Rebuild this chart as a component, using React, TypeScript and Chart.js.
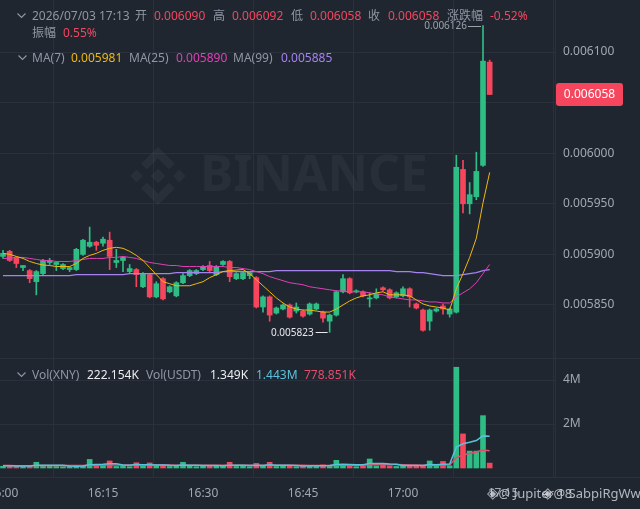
import React, { useEffect, useRef } from 'react';
import { Chart, registerables } from 'chart.js';

Chart.register(...registerables);

const BG = '#1f2630';
const GRID = '#2a313c';
const GREY = '#8f97a3';
const AXIS_TXT = '#a2a8b1';
const UP = '#2ebd85';
const DOWN = '#f6465d';
const MA7_C = '#f0b90b';
const MA25_C = '#e040b4';
const MA99_C = '#a582f0';
const VMA5_C = '#58c2dd';
const VMA10_C = '#e44d6a';
const FONT = '"Noto Sans", "Noto Sans CJK SC", sans-serif';

const HEADER_TIME = '2026/07/03 17:13';
const CHANGE_PCT = '-0.52%';
const AMPLITUDE = '0.55%';
const VOL_LEGEND = ['222.154K', '1.349K', '1.443M', '778.851K'];

const OPEN = [
  0.005898, 0.005903, 0.005897, 0.005887, 0.005884, 0.005873, 0.005881, 0.005892, 0.00589, 0.005886,
  0.005885, 0.005885, 0.0059, 0.005908, 0.005912, 0.005911, 0.005914, 0.005892, 0.005894, 0.005883,
  0.005885, 0.005868, 0.00588, 0.005858, 0.005876, 0.005863, 0.005859, 0.005872, 0.005879, 0.005881,
  0.005885, 0.005889, 0.00588, 0.00589, 0.005893, 0.005876, 0.005876, 0.005879, 0.005877, 0.005848,
  0.005858, 0.005842, 0.005846, 0.00585, 0.005844, 0.005844, 0.005841, 0.005846, 0.005843, 0.005834,
  0.00584, 0.005863, 0.005876, 0.005863, 0.005863, 0.005856, 0.005857, 0.005867, 0.005865, 0.005858,
  0.005859, 0.005866, 0.005851, 0.005845, 0.005834, 0.005844, 0.005849, 0.005841, 0.005843, 0.005984,
  0.00595, 0.005957, 0.005988, 0.00609,
];
const HIGH = [
  0.005904, 0.005904, 0.005898, 0.005889, 0.005885, 0.005884, 0.005895, 0.005896, 0.005893, 0.005891,
  0.005888, 0.005906, 0.005915, 0.005927, 0.005913, 0.005917, 0.005922, 0.005905, 0.005898, 0.00589,
  0.005886, 0.005882, 0.005881, 0.005873, 0.005877, 0.005869, 0.005873, 0.005881, 0.005885, 0.005885,
  0.005889, 0.005893, 0.005889, 0.005894, 0.005894, 0.005882, 0.005883, 0.005883, 0.005878, 0.005859,
  0.005859, 0.005848, 0.005851, 0.005851, 0.005852, 0.005845, 0.005852, 0.005852, 0.005844, 0.005841,
  0.005864, 0.00588, 0.005877, 0.005865, 0.005864, 0.005862, 0.005866, 0.005868, 0.005866, 0.005863,
  0.005868, 0.005867, 0.005852, 0.005846, 0.005846, 0.005847, 0.005851, 0.005847, 0.005998, 0.005993,
  0.005971, 0.006001, 0.006126, 0.006092,
];
const LOW = [
  0.005896, 0.005893, 0.005887, 0.005884, 0.005872, 0.00586, 0.00588, 0.00589, 0.005884, 0.005885,
  0.005883, 0.005884, 0.005899, 0.005907, 0.005904, 0.005908, 0.005885, 0.005887, 0.005883, 0.005882,
  0.005868, 0.005867, 0.005857, 0.005857, 0.005855, 0.005862, 0.005858, 0.005871, 0.005878, 0.00588,
  0.005884, 0.005883, 0.005879, 0.005889, 0.005873, 0.005875, 0.005875, 0.005876, 0.005847, 0.005843,
  0.005834, 0.005841, 0.005845, 0.005837, 0.005842, 0.005838, 0.00584, 0.005845, 0.005833, 0.005823,
  0.005839, 0.005862, 0.005861, 0.005862, 0.005858, 0.005848, 0.005856, 0.005864, 0.005856, 0.005857,
  0.005858, 0.005848, 0.005846, 0.005824, 0.005825, 0.005843, 0.005841, 0.005838, 0.005842, 0.005941,
  0.00594, 0.005954, 0.005987, 0.006058,
];
const CLOSE = [
  0.005901, 0.005894, 0.005891, 0.005889, 0.005876, 0.005883, 0.005894, 0.005894, 0.005892, 0.00589,
  0.005887, 0.005905, 0.005914, 0.005912, 0.005909, 0.005915, 0.005898, 0.005894, 0.005897, 0.005886,
  0.00588, 0.005881, 0.005858, 0.005871, 0.005856, 0.005868, 0.005872, 0.005879, 0.005884, 0.005884,
  0.005888, 0.005884, 0.005888, 0.005893, 0.005878, 0.005881, 0.005882, 0.005882, 0.005848, 0.005858,
  0.00584, 0.005847, 0.00585, 0.005838, 0.005848, 0.005839, 0.005851, 0.005851, 0.005837, 0.00584,
  0.005863, 0.005876, 0.005862, 0.005864, 0.005859, 0.005857, 0.005861, 0.005865, 0.005857, 0.005862,
  0.005866, 0.005858, 0.005847, 0.005825, 0.005845, 0.005846, 0.005846, 0.005846, 0.005986, 0.00595,
  0.005959, 0.005982, 0.006091, 0.006058,
];
const MA7 = [
  0.005901, 0.0059, 0.005898, 0.005896, 0.005893, 0.005891, 0.0058895, 0.005889, 0.005888, 0.005888,
  0.005888, 0.005891, 0.005896, 0.005899, 0.005901, 0.005904, 0.005906, 0.005907, 0.005906, 0.005903,
  0.005899, 0.005894, 0.005887, 0.00588, 0.005873, 0.005871, 0.005869, 0.005869, 0.005869, 0.005871,
  0.005873, 0.005877, 0.00588, 0.005883, 0.005884, 0.0058845, 0.005885, 0.005881, 0.005875, 0.005869,
  0.005863, 0.005857, 0.005852, 0.005848, 0.005846, 0.005845, 0.005845, 0.005844, 0.005843, 0.005843,
  0.005846, 0.00585, 0.005854, 0.005857, 0.005859, 0.00586, 0.005862, 0.005863, 0.00586, 0.00586,
  0.00586, 0.005859, 0.005855, 0.005851, 0.005849, 0.005848, 0.005847, 0.005845, 0.005866, 0.005881,
  0.005897, 0.005916, 0.005951, 0.005981,
];
const MA25 = [
  0.005896, 0.005896, 0.005897, 0.005897, 0.005896, 0.005895, 0.005894, 0.005894, 0.005893, 0.005893,
  0.005893, 0.005894, 0.005895, 0.005896, 0.005896, 0.005896, 0.005897, 0.005897, 0.005898, 0.005897,
  0.005896, 0.005894, 0.005892, 0.005891, 0.00589, 0.005889, 0.005889, 0.005888, 0.005888, 0.005888,
  0.005888, 0.005888, 0.005888, 0.005888, 0.005887, 0.005887, 0.005886, 0.005885, 0.005883, 0.005881,
  0.005878, 0.005876, 0.005874, 0.005872, 0.005871, 0.00587, 0.005868, 0.005867, 0.005866, 0.005865,
  0.005864, 0.005864, 0.005863, 0.005863, 0.005863, 0.005862, 0.005861, 0.00586, 0.005858, 0.005857,
  0.005856, 0.005855, 0.005855, 0.005854, 0.005853, 0.005853, 0.005852, 0.005852, 0.005858, 0.005862,
  0.005866, 0.005872, 0.005881, 0.00589,
];
const MA99 = [
  0.005879, 0.005879, 0.005879, 0.005879, 0.005879, 0.005879, 0.005879, 0.005879, 0.005879, 0.005879,
  0.005879, 0.00588, 0.00588, 0.00588, 0.00588, 0.00588, 0.00588, 0.00588, 0.00588, 0.005881,
  0.005881, 0.005881, 0.005881, 0.005881, 0.005881, 0.005881, 0.005882, 0.005882, 0.005882, 0.005882,
  0.005882, 0.005882, 0.005882, 0.005883, 0.005883, 0.005883, 0.005883, 0.005883, 0.005883, 0.005883,
  0.005883, 0.005884, 0.005884, 0.005884, 0.005884, 0.005884, 0.005884, 0.005884, 0.005884, 0.005884,
  0.005884, 0.005884, 0.005884, 0.005884, 0.005884, 0.005884, 0.005884, 0.005884, 0.005884, 0.005883,
  0.005883, 0.005883, 0.005882, 0.005882, 0.005881, 0.00588, 0.005879, 0.005879, 0.005879, 0.00588,
  0.005881, 0.005882, 0.005884, 0.005885,
];
const VOLUME = [
  80000, 100000, 90000, 60000, 80000, 260000, 120000, 80000, 70000, 60000,
  70000, 120000, 100000, 390000, 100000, 120000, 320000, 70000, 100000, 60000,
  240000, 80000, 230000, 100000, 140000, 70000, 100000, 260000, 80000, 60000,
  90000, 120000, 100000, 80000, 260000, 70000, 100000, 60000, 210000, 100000,
  260000, 70000, 80000, 120000, 60000, 100000, 120000, 80000, 140000, 100000,
  350000, 150000, 120000, 60000, 80000, 410000, 100000, 180000, 100000, 70000,
  120000, 140000, 80000, 120000, 320000, 80000, 300000, 100000, 4580000, 1550000,
  770000, 770000, 2380000, 222154,
];
const VOL_MA5 = [
  100000, 100000, 95000, 90000, 90000, 130000, 130000, 125000, 125000, 120000,
  90000, 85000, 90000, 150000, 160000, 170000, 190000, 190000, 140000, 130000,
  160000, 150000, 150000, 140000, 140000, 120000, 110000, 140000, 130000, 120000,
  110000, 110000, 110000, 100000, 130000, 130000, 120000, 110000, 120000, 110000,
  150000, 130000, 120000, 130000, 110000, 90000, 100000, 100000, 100000, 110000,
  160000, 170000, 160000, 150000, 150000, 200000, 210000, 200000, 180000, 170000,
  110000, 110000, 110000, 110000, 160000, 150000, 170000, 180000, 950000, 1100000,
  1170000, 1250000, 1460000, 1443000,
];
const VOL_MA10 = [
  110000, 110000, 105000, 100000, 100000, 110000, 110000, 110000, 110000, 115000,
  115000, 110000, 110000, 130000, 130000, 130000, 140000, 140000, 140000, 140000,
  140000, 140000, 140000, 140000, 140000, 140000, 130000, 130000, 130000, 130000,
  130000, 120000, 120000, 120000, 120000, 120000, 120000, 120000, 120000, 120000,
  120000, 120000, 120000, 120000, 120000, 120000, 115000, 110000, 110000, 110000,
  120000, 130000, 130000, 130000, 130000, 150000, 160000, 160000, 160000, 160000,
  150000, 140000, 140000, 130000, 130000, 130000, 140000, 140000, 470000, 590000,
  660000, 730000, 820000, 778851,
];
const PRICE_TICKS = [0.00585, 0.0059, 0.00595, 0.006, 0.00605, 0.0061];
const VOL_TICKS = [2000000, 4000000];
const VOL_TICK_LABELS = ['2M', '4M'];
const TIME_TICKS = [0, 15, 30, 45, 60, 75];
const TIME_LABELS = ['16:00', '16:15', '16:30', '16:45', '17:00', '17:15'];

const IDX = OPEN.map((_, i) => i);
const candleColor = IDX.map((i) => (CLOSE[i] >= OPEN[i] ? UP : DOWN));

function drawLogo(ctx: CanvasRenderingContext2D, cx: number, cy: number, s: number) {
  const d = (x: number, y: number, r: number) => {
    ctx.beginPath();
    ctx.moveTo(x, y - r);
    ctx.lineTo(x + r, y);
    ctx.lineTo(x, y + r);
    ctx.lineTo(x - r, y);
    ctx.closePath();
    ctx.fill();
  };
  d(cx, cy, s * 0.13);
  d(cx - s * 0.37, cy, s * 0.11);
  d(cx + s * 0.37, cy, s * 0.11);
  const h = s * 0.5;
  for (const sg of [-1, 1]) {
    ctx.beginPath();
    ctx.moveTo(cx, cy + sg * h);
    ctx.lineTo(cx + s * 0.29, cy + sg * (h - s * 0.29));
    ctx.lineTo(cx + s * 0.19, cy + sg * (h - s * 0.39));
    ctx.lineTo(cx, cy + sg * (h - s * 0.2));
    ctx.lineTo(cx - s * 0.19, cy + sg * (h - s * 0.39));
    ctx.lineTo(cx - s * 0.29, cy + sg * (h - s * 0.29));
    ctx.closePath();
    ctx.fill();
  }
}

const overlayPlugin = {
  id: 'overlay',
  beforeDatasetsDraw(chart: any) {
    const ctx = chart.ctx as CanvasRenderingContext2D;
    ctx.save();
    ctx.fillStyle = 'rgba(255,255,255,0.045)';
    drawLogo(ctx, 158, 176, 58);
    ctx.font = `bold 46px ${FONT}`;
    const w = ctx.measureText('BINANCE').width;
    const size = (46 * 228) / w;
    ctx.font = `bold ${size}px ${FONT}`;
    ctx.textBaseline = 'middle';
    ctx.textAlign = 'left';
    ctx.fillText('BINANCE', 200, 177);
    ctx.restore();
  },
  afterDraw(chart: any) {
    const ctx = chart.ctx as CanvasRenderingContext2D;
    const xs = chart.scales.x;
    const ys = chart.scales.y;
    ctx.save();
    ctx.strokeStyle = GRID;
    ctx.lineWidth = 1;
    const sep = Math.round(ys.bottom) + 0.5;
    ctx.beginPath();
    ctx.moveTo(0, sep);
    ctx.lineTo(640, sep);
    ctx.stroke();
    const bot = Math.round(xs.top) + 0.5;
    ctx.beginPath();
    ctx.moveTo(0, bot);
    ctx.lineTo(640, bot);
    ctx.stroke();

    let hi = 0;
    let lo = 0;
    IDX.forEach((i) => {
      if (HIGH[i] > HIGH[hi]) hi = i;
      if (LOW[i] < LOW[lo]) lo = i;
    });
    ctx.font = `10px ${FONT}`;
    ctx.textBaseline = 'middle';
    ctx.textAlign = 'right';
    const hx = xs.getPixelForValue(hi);
    const hy = Math.round(ys.getPixelForValue(HIGH[hi])) + 0.5;
    ctx.fillStyle = '#9aa1ab';
    ctx.strokeStyle = '#9aa1ab';
    ctx.fillText(HIGH[hi].toFixed(6), hx - 16, hy);
    ctx.beginPath();
    ctx.moveTo(hx - 15, hy);
    ctx.lineTo(hx - 2, hy);
    ctx.stroke();
    const lx = xs.getPixelForValue(lo);
    const ly = Math.round(ys.getPixelForValue(LOW[lo])) + 0.5;
    ctx.fillStyle = '#e6e8eb';
    ctx.strokeStyle = '#e6e8eb';
    ctx.fillText(LOW[lo].toFixed(6), lx - 16, ly + 1);
    ctx.beginPath();
    ctx.moveTo(lx - 14, ly);
    ctx.lineTo(lx - 2, ly);
    ctx.stroke();

    const last = CLOSE[CLOSE.length - 1];
    const py = ys.getPixelForValue(last);
    const bx = 556;
    const bw = 67;
    const bh = 23;
    ctx.fillStyle = candleColor[candleColor.length - 1];
    ctx.beginPath();
    (ctx as any).roundRect(bx, py - bh / 2, bw, bh, 3);
    ctx.fill();
    ctx.fillStyle = '#ffffff';
    ctx.font = `12px ${FONT}`;
    ctx.textAlign = 'center';
    ctx.fillText(last.toFixed(6), bx + bw / 2, py + 0.5);
    ctx.restore();
  },
};

const Chev = ({ x, y }: { x: number; y: number }) => (
  <svg style={{ position: 'absolute', left: x, top: y - 3 }} width={9} height={6}>
    <polyline points="0.5,0.5 4.5,4.5 8.5,0.5" fill="none" stroke={GREY} strokeWidth={1.1} />
  </svg>
);

const T = ({ x, y, c, s, children }: any) => (
  <span
    style={{
      position: 'absolute',
      left: x,
      top: y - 8,
      fontSize: s || 12,
      lineHeight: '16px',
      color: c || GREY,
      whiteSpace: 'nowrap',
      fontFamily: FONT,
    }}
  >
    {children}
  </span>
);

export default function App() {
  const ref = useRef<HTMLCanvasElement>(null);
  useEffect(() => {
    const chart = new Chart(ref.current as HTMLCanvasElement, {
      type: 'bar',
      data: {
        datasets: [
          {
            type: 'line',
            data: IDX.map((i) => ({ x: i, y: MA7[i] })),
            borderColor: MA7_C,
            borderWidth: 1,
            pointRadius: 0,
            yAxisID: 'y',
            order: 0,
          },
          {
            type: 'line',
            data: IDX.map((i) => ({ x: i, y: MA25[i] })),
            borderColor: MA25_C,
            borderWidth: 1,
            pointRadius: 0,
            yAxisID: 'y',
            order: 0,
          },
          {
            type: 'line',
            data: IDX.map((i) => ({ x: i, y: MA99[i] })),
            borderColor: MA99_C,
            borderWidth: 1.2,
            pointRadius: 0,
            yAxisID: 'y',
            order: 0,
          },
          {
            type: 'bar',
            data: IDX.map((i) => ({ x: i, y: [LOW[i], HIGH[i]] })),
            backgroundColor: candleColor,
            barThickness: 1,
            grouped: false,
            yAxisID: 'y',
            order: 2,
          },
          {
            type: 'bar',
            data: IDX.map((i) => ({ x: i, y: [OPEN[i], CLOSE[i]] })),
            backgroundColor: candleColor,
            barThickness: 5,
            minBarLength: 1,
            grouped: false,
            yAxisID: 'y',
            order: 1,
          },
          {
            type: 'bar',
            data: IDX.map((i) => ({ x: i, y: VOLUME[i] })),
            backgroundColor: candleColor,
            barThickness: 5,
            grouped: false,
            yAxisID: 'yv',
            order: 1,
          },
          {
            type: 'line',
            data: IDX.map((i) => ({ x: i, y: VOL_MA5[i] })),
            borderColor: VMA5_C,
            borderWidth: 1.5,
            pointRadius: 0,
            yAxisID: 'yv',
            order: 0,
          },
          {
            type: 'line',
            data: IDX.map((i) => ({ x: i, y: VOL_MA10[i] })),
            borderColor: VMA10_C,
            borderWidth: 1.5,
            pointRadius: 0,
            yAxisID: 'yv',
            order: 0,
          },
        ] as any,
      },
      options: {
        responsive: false,
        devicePixelRatio: 1,
        animation: false,
        layout: { padding: 0 },
        plugins: { legend: { display: false }, tooltip: { enabled: false } },
        scales: {
          x: {
            type: 'linear',
            min: -0.45,
            max: 82.8,
            offset: false,
            grid: { color: GRID, drawTicks: false },
            border: { display: false },
            ticks: {
              color: AXIS_TXT,
              font: { family: FONT, size: 12 },
              padding: 9,
              maxRotation: 0,
              autoSkip: false,
              callback: (_v: any, idx: number) => TIME_LABELS[idx],
            },
            afterBuildTicks: (s: any) => {
              s.ticks = TIME_TICKS.map((v) => ({ value: v }));
            },
            afterFit: (s: any) => {
              s.height = 32;
              s.paddingLeft = 0;
              s.paddingRight = 0;
            },
          },
          y: {
            type: 'linear',
            position: 'right',
            stack: 'pane',
            stackWeight: 358,
            min: 0.0057976,
            max: 0.0061514,
            grid: { color: GRID, drawTicks: false },
            border: { display: true, color: GRID },
            ticks: {
              color: AXIS_TXT,
              font: { family: FONT, size: 12 },
              padding: 8,
              callback: (v: any) => Number(v).toFixed(6),
            },
            afterBuildTicks: (s: any) => {
              s.ticks = PRICE_TICKS.map((v) => ({ value: v }));
            },
            afterFit: (s: any) => {
              s.width = 85;
              s.paddingTop = 0;
              s.paddingBottom = 0;
            },
          },
          yv: {
            type: 'linear',
            position: 'right',
            stack: 'pane',
            stackWeight: 119,
            min: -409000,
            max: 5000000,
            grid: { color: GRID, drawTicks: false },
            border: { display: true, color: GRID },
            ticks: {
              color: AXIS_TXT,
              font: { family: FONT, size: 12 },
              padding: 8,
              callback: (_v: any, idx: number) => VOL_TICK_LABELS[idx],
            },
            afterBuildTicks: (s: any) => {
              s.ticks = VOL_TICKS.map((v) => ({ value: v }));
            },
            afterFit: (s: any) => {
              s.width = 85;
              s.paddingTop = 0;
              s.paddingBottom = 0;
            },
          },
        },
      } as any,
      plugins: [overlayPlugin],
    });
    return () => chart.destroy();
  }, []);

  const L = OPEN.length - 1;
  const wm = 'rgba(215,219,225,0.8)';

  return (
    <div
      style={{
        position: 'fixed',
        left: 0,
        top: 0,
        width: 640,
        height: 509,
        background: BG,
        overflow: 'hidden',
        fontFamily: FONT,
      }}
    >
      <canvas
        ref={ref}
        width={640}
        height={509}
        style={{ position: 'absolute', left: 0, top: 0, width: 640, height: 509 }}
      />
      <Chev x={17} y={16} />
      <T x={32} y={16}>{HEADER_TIME}</T>
      <T x={135} y={16}>开</T>
      <T x={154} y={16} c={DOWN}>{OPEN[L].toFixed(6)}</T>
      <T x={213} y={16}>高</T>
      <T x={232} y={16} c={DOWN}>{HIGH[L].toFixed(6)}</T>
      <T x={291} y={16}>低</T>
      <T x={310} y={16} c={DOWN}>{LOW[L].toFixed(6)}</T>
      <T x={368} y={16}>收</T>
      <T x={388} y={16} c={DOWN}>{CLOSE[L].toFixed(6)}</T>
      <T x={447} y={16}>涨跌幅</T>
      <T x={490} y={16} c={DOWN}>{CHANGE_PCT}</T>
      <T x={32} y={33}>振幅</T>
      <T x={63} y={33} c={DOWN}>{AMPLITUDE}</T>

      <Chev x={18} y={58} />
      <T x={32} y={58}>MA(7)</T>
      <T x={71} y={58} c={MA7_C}>{MA7[L].toFixed(6)}</T>
      <T x={129} y={58}>MA(25)</T>
      <T x={176} y={58} c={MA25_C}>{MA25[L].toFixed(6)}</T>
      <T x={233} y={58}>MA(99)</T>
      <T x={281} y={58} c={MA99_C}>{MA99[L].toFixed(6)}</T>

      <Chev x={17} y={375} />
      <T x={32} y={375}>Vol(XNY)</T>
      <T x={87} y={375} c="#eaecef">{VOL_LEGEND[0]}</T>
      <T x={146} y={375}>Vol(USDT)</T>
      <T x={210} y={375} c="#eaecef">{VOL_LEGEND[1]}</T>
      <T x={256} y={375} c={VMA5_C}>{VOL_LEGEND[2]}</T>
      <T x={304} y={375} c={VMA10_C}>{VOL_LEGEND[3]}</T>

      <span
        style={{
          position: 'absolute',
          left: 487,
          top: 484,
          fontSize: 13,
          lineHeight: '18px',
          color: wm,
          whiteSpace: 'nowrap',
          fontFamily: FONT,
        }}
      >
        <span style={{ fontFamily: '"DejaVu Sans"', fontSize: 15 }}>◈</span>@ Jupiter 18
      </span>
      <span
        style={{
          position: 'absolute',
          left: 542,
          top: 484,
          fontSize: 13,
          lineHeight: '18px',
          color: wm,
          whiteSpace: 'nowrap',
          fontFamily: FONT,
        }}
      >
        <span style={{ fontFamily: '"DejaVu Sans"', fontSize: 15 }}>◈</span>@ SabpiRgWw
      </span>
    </div>
  );
}
